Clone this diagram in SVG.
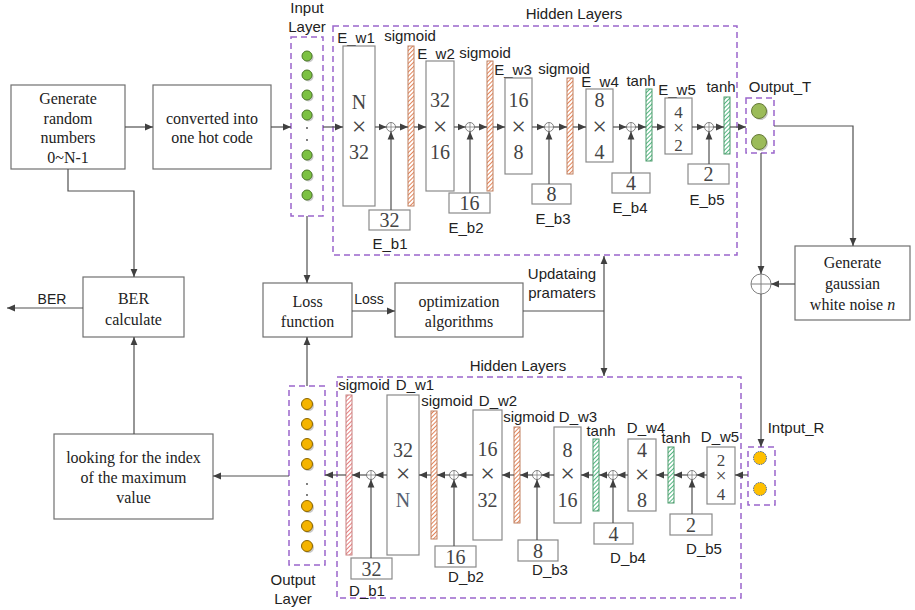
<svg xmlns="http://www.w3.org/2000/svg" width="915" height="610" viewBox="0 0 915 610">
<style>
.box{fill:#fff;stroke:#707070;stroke-width:1.2}
.wb{fill:#fff;stroke:#8a8a8a;stroke-width:1.2}
.dash{fill:none;stroke:#9a66cc;stroke-width:1.5;stroke-dasharray:6 4}
.ln{fill:none;stroke:#505050;stroke-width:1.2}
.ar{marker-end:url(#ar)}
.sr{font-family:"Liberation Serif",serif;font-size:16px;fill:#222;text-anchor:middle}
.sn{font-family:"Liberation Sans",Arial,sans-serif;font-size:15px;fill:#222;text-anchor:middle}
.num{font-family:"Liberation Serif",serif;font-size:20px;fill:#444;text-anchor:middle}
.x{font-family:"Liberation Serif",serif;font-size:26px;fill:#444;text-anchor:middle}
.sm{font-size:17px}
.smx{font-size:19px}
.barO{fill:url(#hO);stroke:#c08060;stroke-width:1}
.barP{fill:url(#hP);stroke:#c88080;stroke-width:1}
.barG{fill:url(#hG);stroke:#4a9a6a;stroke-width:1}
.sum{fill:#fff;stroke:#808080;stroke-width:1}
.cG{fill:#7cc142;stroke:#4d7a28;stroke-width:1}
.cT{fill:#9bbb59;stroke:#667a38;stroke-width:1}
.cO{fill:#f5b400;stroke:#8a6500;stroke-width:1}
.cR{fill:#ffc000;stroke:#3e5f96;stroke-width:1;stroke-dasharray:1.5 1}
.sh{fill:#c8c8c8}
.dot{fill:#444}
</style>
<defs>
<marker id="ar" viewBox="0 0 8 8" refX="8" refY="4" markerWidth="8" markerHeight="8" markerUnits="userSpaceOnUse" orient="auto-start-reverse">
<path d="M0,0.6 L8,4 L0,7.4 z" fill="#404040"/>
</marker>
<pattern id="hO" width="3" height="3" patternUnits="userSpaceOnUse" patternTransform="rotate(45)">
<rect width="3" height="3" fill="#fff"/><line x1="0.5" y1="0" x2="0.5" y2="3" stroke="#e3865c" stroke-width="1"/>
</pattern>
<pattern id="hP" width="3" height="3" patternUnits="userSpaceOnUse" patternTransform="rotate(45)">
<rect width="3" height="3" fill="#fff"/><line x1="0.5" y1="0" x2="0.5" y2="3" stroke="#e68080" stroke-width="1"/>
</pattern>
<pattern id="hG" width="3" height="3" patternUnits="userSpaceOnUse" patternTransform="rotate(45)">
<rect width="3" height="3" fill="#fff"/><line x1="0.5" y1="0" x2="0.5" y2="3" stroke="#55b883" stroke-width="1"/>
</pattern>
</defs>
<rect width="915" height="610" fill="#fff"/>

<!-- Left side nodes -->
<g id="gen-random">
<rect class="box" x="11" y="85" width="114" height="84"/>
<text class="sr" x="68" y="104">Generate</text>
<text class="sr" x="68" y="124">random</text>
<text class="sr" x="68" y="143">numbers</text>
<text class="sr" x="68" y="163">0~N-1</text>
</g>
<g id="onehot">
<rect class="box" x="153" y="85" width="118" height="84"/>
<text class="sr" x="212" y="124">converted into</text>
<text class="sr" x="212" y="143">one hot code</text>
</g>
<g id="ber">
<rect class="box" x="83" y="277" width="101" height="60"/>
<text class="sr" x="133.5" y="304">BER</text>
<text class="sr" x="133.5" y="325">calculate</text>
</g>
<g id="looking">
<rect class="box" x="54" y="434" width="159" height="85"/>
<text class="sr" x="133.5" y="463">looking for the index</text>
<text class="sr" x="133.5" y="483">of the maximum</text>
<text class="sr" x="133.5" y="503">value</text>
</g>
<g id="loss">
<rect class="box" x="263" y="283" width="89" height="54"/>
<text class="sr" x="307.5" y="307">Loss</text>
<text class="sr" x="307.5" y="327">function</text>
</g>
<g id="optim">
<rect class="box" x="395" y="283" width="128" height="54"/>
<text class="sr" x="459" y="307">optimization</text>
<text class="sr" x="459" y="327">algorithms</text>
</g>
<g id="gauss">
<rect class="box" x="795" y="246" width="115" height="74"/>
<text class="sr" x="852.5" y="268">Generate</text>
<text class="sr" x="852.5" y="289">gaussian</text>
<text class="sr" x="852.5" y="310">white noise <tspan font-style="italic">n</tspan></text>
</g>
<g id="noise-sum">
<circle class="sum" cx="761" cy="284" r="10"/>
<path d="M751,284 H771 M761,274 V294" stroke="#808080" stroke-width="1"/>
</g>

<!-- Input layer -->
<g id="input-layer">
<text class="sn" x="307" y="13">Input</text>
<text class="sn" x="307" y="32">Layer</text>
<rect class="dash" x="291" y="37" width="32" height="179"/>
<circle class="sh" cx="308.5" cy="57.5" r="5"/><circle class="cG" cx="307" cy="56" r="5"/>
<circle class="sh" cx="308.5" cy="76.5" r="5"/><circle class="cG" cx="307" cy="75" r="5"/>
<circle class="sh" cx="308.5" cy="96.5" r="5"/><circle class="cG" cx="307" cy="95" r="5"/>
<circle class="sh" cx="308.5" cy="116.5" r="5"/><circle class="cG" cx="307" cy="115" r="5"/>
<circle class="dot" cx="307" cy="128" r="0.9"/><circle class="dot" cx="307" cy="140" r="0.9"/>
<circle class="sh" cx="308.5" cy="156.5" r="5"/><circle class="cG" cx="307" cy="155" r="5"/>
<circle class="sh" cx="308.5" cy="176.5" r="5"/><circle class="cG" cx="307" cy="175" r="5"/>
<circle class="sh" cx="308.5" cy="196.5" r="5"/><circle class="cG" cx="307" cy="195" r="5"/>
</g>

<!-- Top hidden layers -->
<g id="enc-hidden">
<rect class="dash" x="333" y="26" width="404" height="229"/>
<text class="sn" x="574" y="19">Hidden Layers</text>
</g>
<g id="E_w1">
<text class="sn" x="356" y="43">E_w1</text>
<rect class="wb" x="343" y="46" width="32" height="160"/>
<text class="num" x="359" y="109">N</text><text class="x" x="359" y="135">×</text><text class="num" x="359" y="159">32</text>
</g>
<g id="E_sum1"><circle class="sum" cx="391" cy="127" r="4.5"/><path d="M386.5,127 H395.5 M391,122.5 V131.5" stroke="#808080" stroke-width="0.8"/></g>
<g id="E_sig1"><text class="sn" x="410" y="41">sigmoid</text><rect class="barO" x="408" y="46" width="6" height="160"/></g>
<g id="E_b1"><rect class="wb" x="369" y="210" width="41" height="20"/><text class="num" x="389.5" y="227">32</text><text class="sn" x="390" y="249">E_b1</text></g>

<g id="E_w2">
<text class="sn" x="436" y="59">E_w2</text>
<rect class="wb" x="426" y="61" width="28" height="130"/>
<text class="num" x="440" y="107">32</text><text class="x" x="440" y="135">×</text><text class="num" x="440" y="159">16</text>
</g>
<g id="E_sum2"><circle class="sum" cx="470" cy="127" r="4.5"/><path d="M465.5,127 H474.5 M470,122.5 V131.5" stroke="#808080" stroke-width="0.8"/></g>
<g id="E_sig2"><text class="sn" x="485" y="58">sigmoid</text><rect class="barO" x="487" y="61" width="6" height="130"/></g>
<g id="E_b2"><rect class="wb" x="449" y="193" width="41" height="20"/><text class="num" x="469.5" y="210">16</text><text class="sn" x="466" y="233">E_b2</text></g>

<g id="E_w3">
<text class="sn" x="513" y="75">E_w3</text>
<rect class="wb" x="505" y="78" width="27" height="96"/>
<text class="num" x="518.5" y="107">16</text><text class="x" x="518.5" y="135">×</text><text class="num" x="518.5" y="159">8</text>
</g>
<g id="E_sum3"><circle class="sum" cx="549" cy="127" r="4.5"/><path d="M544.5,127 H553.5 M549,122.5 V131.5" stroke="#808080" stroke-width="0.8"/></g>
<g id="E_sig3"><text class="sn" x="564" y="74">sigmoid</text><rect class="barO" x="567" y="78" width="6" height="96"/></g>
<g id="E_b3"><rect class="wb" x="532" y="184" width="39" height="20"/><text class="num" x="551.5" y="201">8</text><text class="sn" x="553" y="224">E_b3</text></g>

<g id="E_w4">
<text class="sn" x="600" y="87">E_w4</text>
<rect class="wb" x="586" y="89" width="27" height="73"/>
<text class="num" x="599.5" y="107">8</text><text class="x" x="599.5" y="135">×</text><text class="num" x="599.5" y="159">4</text>
</g>
<g id="E_sum4"><circle class="sum" cx="631" cy="127" r="4.5"/><path d="M626.5,127 H635.5 M631,122.5 V131.5" stroke="#808080" stroke-width="0.8"/></g>
<g id="E_tanh1"><text class="sn" x="641" y="86">tanh</text><rect class="barG" x="646" y="89" width="6" height="72"/></g>
<g id="E_b4"><rect class="wb" x="612" y="173" width="38" height="20"/><text class="num" x="631" y="190">4</text><text class="sn" x="630" y="213">E_b4</text></g>

<g id="E_w5">
<text class="sn" x="677" y="95">E_w5</text>
<rect class="wb" x="665" y="98" width="27" height="56"/>
<text class="num sm" x="678.5" y="118">4</text><text class="x smx" x="678.5" y="134">×</text><text class="num sm" x="678.5" y="151">2</text>
</g>
<g id="E_sum5"><circle class="sum" cx="709" cy="127" r="4.5"/><path d="M704.5,127 H713.5 M709,122.5 V131.5" stroke="#808080" stroke-width="0.8"/></g>
<g id="E_tanh2"><text class="sn" x="721" y="92">tanh</text><rect class="barG" x="724" y="97" width="6" height="57"/></g>
<g id="E_b5"><rect class="wb" x="688" y="164" width="41" height="20"/><text class="num" x="708.5" y="181">2</text><text class="sn" x="707" y="205">E_b5</text></g>

<g id="output-T">
<text class="sn" x="780" y="92">Output_T</text>
<rect class="dash" x="746" y="98" width="28" height="55"/>
<circle class="sh" cx="760.5" cy="112.5" r="7.5"/><circle class="cT" cx="759" cy="111" r="7.5"/>
<circle class="sh" cx="760.5" cy="143.5" r="7.5"/><circle class="cT" cx="759" cy="142" r="7.5"/>
</g>

<!-- Bottom hidden layers -->
<g id="dec-hidden">
<rect class="dash" x="337" y="377" width="404" height="221"/>
<text class="sn" x="518" y="371">Hidden Layers</text>
</g>
<g id="input-R">
<text class="sn" x="796" y="433">Intput_R</text>
<rect class="dash" x="748" y="447" width="27" height="58"/>
<circle class="cR" cx="760" cy="458" r="6.5"/>
<circle class="cR" cx="760" cy="489" r="6.5"/>
</g>
<g id="D_w5">
<text class="sn" x="720" y="442">D_w5</text>
<rect class="wb" x="707" y="447" width="28" height="57"/>
<text class="num sm" x="721" y="466">2</text><text class="x smx" x="721" y="482">×</text><text class="num sm" x="721" y="500">4</text>
</g>
<g id="D_sum5"><circle class="sum" cx="692" cy="475" r="4.5"/><path d="M687.5,475 H696.5 M692,470.5 V479.5" stroke="#808080" stroke-width="0.8"/></g>
<g id="D_tanh2"><text class="sn" x="676" y="443">tanh</text><rect class="barG" x="668" y="447" width="6" height="56"/></g>
<g id="D_b5"><rect class="wb" x="670" y="514" width="42" height="21"/><text class="num" x="691" y="532">2</text><text class="sn" x="704" y="554">D_b5</text></g>

<g id="D_w4">
<text class="sn" x="646" y="433">D_w4</text>
<rect class="wb" x="628" y="439" width="28" height="72"/>
<text class="num" x="642" y="457">4</text><text class="x" x="642" y="483">×</text><text class="num" x="642" y="507">8</text>
</g>
<g id="D_sum4"><circle class="sum" cx="613" cy="475" r="4.5"/><path d="M608.5,475 H617.5 M613,470.5 V479.5" stroke="#808080" stroke-width="0.8"/></g>
<g id="D_tanh1"><text class="sn" x="601" y="436">tanh</text><rect class="barG" x="593" y="439" width="6" height="72"/></g>
<g id="D_b4"><rect class="wb" x="594" y="523" width="39" height="21"/><text class="num" x="613.5" y="541">4</text><text class="sn" x="628" y="563">D_b4</text></g>

<g id="D_w3">
<text class="sn" x="578" y="422">D_w3</text>
<rect class="wb" x="554" y="427" width="27" height="96"/>
<text class="num" x="567.5" y="457">8</text><text class="x" x="567.5" y="482">×</text><text class="num" x="567.5" y="507">16</text>
</g>
<g id="D_sum3"><circle class="sum" cx="537" cy="475" r="4.5"/><path d="M532.5,475 H541.5 M537,470.5 V479.5" stroke="#808080" stroke-width="0.8"/></g>
<g id="D_sig3"><text class="sn" x="529" y="422">sigmoid</text><rect class="barO" x="514" y="427" width="6" height="96"/></g>
<g id="D_b3"><rect class="wb" x="518" y="540" width="40" height="21"/><text class="num" x="538" y="558">8</text><text class="sn" x="550" y="575">D_b3</text></g>

<g id="D_w2">
<text class="sn" x="498" y="406">D_w2</text>
<rect class="wb" x="473" y="410" width="29" height="130"/>
<text class="num" x="487.5" y="456">16</text><text class="x" x="487.5" y="482">×</text><text class="num" x="487.5" y="507">32</text>
</g>
<g id="D_sum2"><circle class="sum" cx="454" cy="475" r="4.5"/><path d="M449.5,475 H458.5 M454,470.5 V479.5" stroke="#808080" stroke-width="0.8"/></g>
<g id="D_sig2"><text class="sn" x="447" y="406">sigmoid</text><rect class="barO" x="431" y="411" width="6" height="128"/></g>
<g id="D_b2"><rect class="wb" x="435" y="546" width="41" height="21"/><text class="num" x="455.5" y="564">16</text><text class="sn" x="466" y="582">D_b2</text></g>

<g id="D_w1">
<text class="sn" x="415" y="390">D_w1</text>
<rect class="wb" x="387" y="395" width="32" height="160"/>
<text class="num" x="403" y="457">32</text><text class="x" x="403" y="482">×</text><text class="num" x="403" y="507" style="fill:#556070">N</text>
</g>
<g id="D_sum1"><circle class="sum" cx="371" cy="475" r="4.5"/><path d="M366.5,475 H375.5 M371,470.5 V479.5" stroke="#808080" stroke-width="0.8"/></g>
<g id="D_sig1"><text class="sn" x="364" y="390">sigmoid</text><rect class="barP" x="346" y="395" width="6" height="160"/></g>
<g id="D_b1"><rect class="wb" x="351" y="558" width="41" height="21"/><text class="num" x="371.5" y="576">32</text><text class="sn" x="367" y="596">D_b1</text></g>

<g id="output-layer">
<rect class="dash" x="289" y="386" width="36" height="179"/>
<circle class="sh" cx="308.5" cy="405.5" r="5.5"/><circle class="cO" cx="307" cy="404" r="5.5"/>
<circle class="sh" cx="308.5" cy="425.5" r="5.5"/><circle class="cO" cx="307" cy="424" r="5.5"/>
<circle class="sh" cx="308.5" cy="445.5" r="5.5"/><circle class="cO" cx="307" cy="444" r="5.5"/>
<circle class="sh" cx="308.5" cy="465.5" r="5.5"/><circle class="cO" cx="307" cy="464" r="5.5"/>
<circle class="dot" cx="307" cy="484" r="0.9"/><circle class="dot" cx="307" cy="495" r="0.9"/>
<circle class="sh" cx="308.5" cy="507.5" r="5.5"/><circle class="cO" cx="307" cy="506" r="5.5"/>
<circle class="sh" cx="308.5" cy="527.5" r="5.5"/><circle class="cO" cx="307" cy="526" r="5.5"/>
<circle class="sh" cx="308.5" cy="547.5" r="5.5"/><circle class="cO" cx="307" cy="546" r="5.5"/>
<text class="sn" x="293" y="585">Output</text>
<text class="sn" x="293" y="604">Layer</text>
</g>

<!-- Connectors -->
<g id="connectors">
<path class="ln ar" d="M125,127 H153"/>
<path class="ln ar" d="M271,127 H291"/>
<path class="ln ar" d="M68,169 V191 H134 V277"/>
<path class="ln ar" d="M83,308 H7"/>
<text class="sn" x="52" y="304" style="font-size:14px">BER</text>
<path class="ln ar" d="M134,434 V337"/>
<path class="ln ar" d="M289,476 H213"/>
<path class="ln ar" d="M307,216 V283"/>
<path class="ln ar" d="M307,386 V337"/>
<path class="ln ar" d="M352,311 H395"/>
<text class="sn" x="369" y="304" style="font-size:14px">Loss</text>
<path class="ln" d="M523,311 H604"/>
<path class="ln" d="M604,256 V376" style="marker-start:url(#ar);marker-end:url(#ar)"/>
<text class="sn" x="562" y="279">Updataing</text>
<text class="sn" x="562" y="298">pramaters</text>
<path class="ln ar" d="M323,127 H343"/>
<path class="ln ar" d="M375,127 H386.5"/>
<path class="ln ar" d="M395.5,127 H408"/>
<path class="ln ar" d="M414,127 H426"/>
<path class="ln ar" d="M454,127 H465.5"/>
<path class="ln ar" d="M474.5,127 H487"/>
<path class="ln ar" d="M493,127 H505"/>
<path class="ln ar" d="M532,127 H544.5"/>
<path class="ln ar" d="M553.5,127 H567"/>
<path class="ln ar" d="M573,127 H586"/>
<path class="ln ar" d="M613,127 H626.5"/>
<path class="ln ar" d="M635.5,127 H646"/>
<path class="ln ar" d="M652,127 H665"/>
<path class="ln ar" d="M692,127 H704.5"/>
<path class="ln ar" d="M713.5,127 H724"/>
<path class="ln ar" d="M730,127 H746"/>
<path class="ln ar" d="M391,210 V131.5"/>
<path class="ln ar" d="M470,193 V131.5"/>
<path class="ln ar" d="M549,184 V131.5"/>
<path class="ln ar" d="M631,173 V131.5"/>
<path class="ln ar" d="M709,164 V131.5"/>
<path class="ln ar" d="M774,126 H853 V246"/>
<path class="ln ar" d="M761,153 V274"/>
<path class="ln ar" d="M795,284 H771"/>
<path class="ln ar" d="M761,294 V447"/>
<path class="ln ar" d="M748,475 H735"/>
<path class="ln ar" d="M707,475 H696.5"/>
<path class="ln ar" d="M687.5,475 H674"/>
<path class="ln ar" d="M668,475 H656"/>
<path class="ln ar" d="M628,475 H617.5"/>
<path class="ln ar" d="M608.5,475 H599"/>
<path class="ln ar" d="M593,475 H581"/>
<path class="ln ar" d="M554,475 H541.5"/>
<path class="ln ar" d="M532.5,475 H520"/>
<path class="ln ar" d="M514,475 H502"/>
<path class="ln ar" d="M473,475 H458.5"/>
<path class="ln ar" d="M449.5,475 H437"/>
<path class="ln ar" d="M431,475 H419"/>
<path class="ln ar" d="M387,475 H375.5"/>
<path class="ln ar" d="M366.5,475 H352"/>
<path class="ln ar" d="M346,475 H325"/>
<path class="ln ar" d="M692,514 V479.5"/>
<path class="ln ar" d="M613,523 V479.5"/>
<path class="ln ar" d="M537,540 V479.5"/>
<path class="ln ar" d="M454,546 V479.5"/>
<path class="ln ar" d="M371,558 V479.5"/>
</g>
</svg>
